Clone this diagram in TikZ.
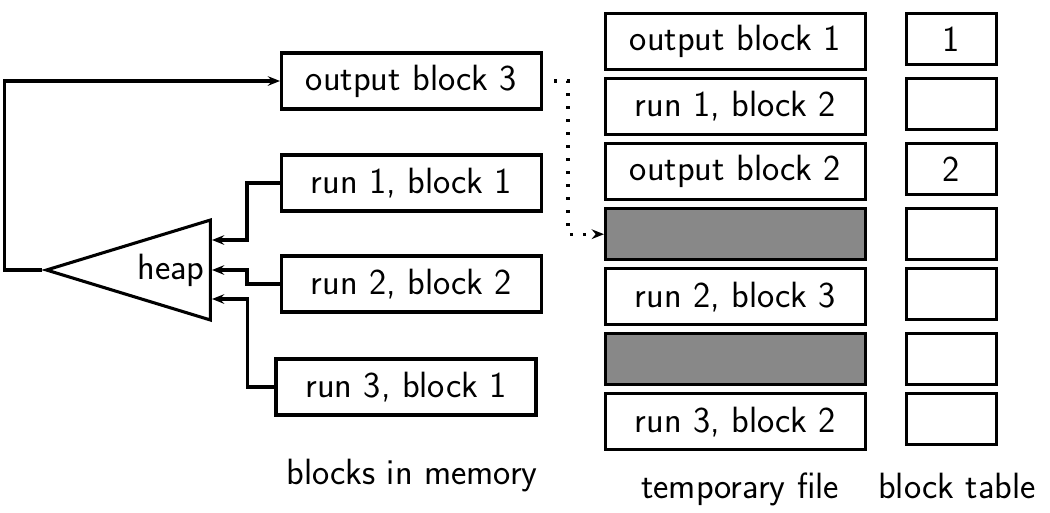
\documentclass[tikz,border=0pt]{standalone}
\usepackage{tikz}
\usetikzlibrary{positioning,shapes.geometric,arrows.meta,calc}
\definecolor{blockgray}{RGB}{136,136,136}

\tikzset{
  memblk/.style={draw, minimum width=5.2cm, minimum height=1.12cm},
  tfblk/.style={draw, fill=white, minimum width=5.2cm, minimum height=1.12cm},
  freeblk/.style={draw, fill=blockgray, minimum width=5.2cm, minimum height=1.02cm},
  tabcell/.style={draw, minimum width=1.8cm, minimum height=1.02cm},
  heapnode/.style={draw, isosceles triangle, shape border rotate=180,
    isosceles triangle stretches, minimum height=3.28cm, minimum width=2.0cm, inner sep=0pt},
  dots/.style={dash pattern=on 1.6pt off 5.8pt, -{Stealth[length=7pt,width=5.5pt]}}
}

\begin{document}
\begin{tikzpicture}[x=0.02cm, y=-0.02cm, line width=1.75pt,
    font=\fontsize{20.8}{25}\selectfont\sffamily,
    >={Stealth[length=7pt,width=5.5pt,inset=2.5pt]}]
    \useasboundingbox (0,0) rectangle (1050,512);

    % blocks in memory
    \node[memblk] (out3) at (411.5,81) {output block 3};
    \node[memblk] (run11) at (411.5,183) {run 1, block 1};
    \node[memblk] (run22) at (411.5,284) {run 2, block 2};
    \node[memblk] (run31) at (406,387) {run 3, block 1};
    \node[anchor=base] (memlabel) at (412,484) {blocks in memory};

    % heap
    \node[heapnode, anchor=east, label={[anchor=east]east:heap}] (heap) at (212,270) {};

    % temporary file
    \node[tfblk] (tf1) at (735.5,41.5) {output block 1};
    \node[tfblk, below=0.12cm of tf1] (tf2) {run 1, block 2};
    \node[tfblk, below=0.12cm of tf2] (tf3) {output block 2};
    \node[freeblk, below=0.12cm of tf3] (tf4) {};
    \node[tfblk, below=0.12cm of tf4] (tf5) {run 2, block 3};
    \node[freeblk, below=0.12cm of tf5] (tf6) {};
    \node[tfblk, below=0.12cm of tf6] (tf7) {run 3, block 2};
    \node[anchor=base] (tflabel) at (740,498) {temporary file};

    % block table
    \foreach \i/\t in {1/1,2/,3/2,4/,5/,6/,7/}
        \node[tabcell, right=0.76cm of tf\i.north east, anchor=north west] (bt\i) {\t};
    \node[anchor=base] (btlabel) at (957,498) {block table};

    % connectors
    \draw[->] (heap.apex) -- ++(-38,0) |- (out3.west);
    \draw[->] (run11.west) -- ++(-33,0) |- ($(heap.east)+(0,-30)$);
    \draw[->] (run22.west) -- ++(-33,0) |- (heap.east);
    \draw[->] (run31.west) -- ++(-27,0) |- ($(heap.east)+(0,29)$);
    \draw[dots, shorten <=0.22cm] (out3.east) -- ++(25,0) |- (tf4.west);
\end{tikzpicture}
\end{document}
